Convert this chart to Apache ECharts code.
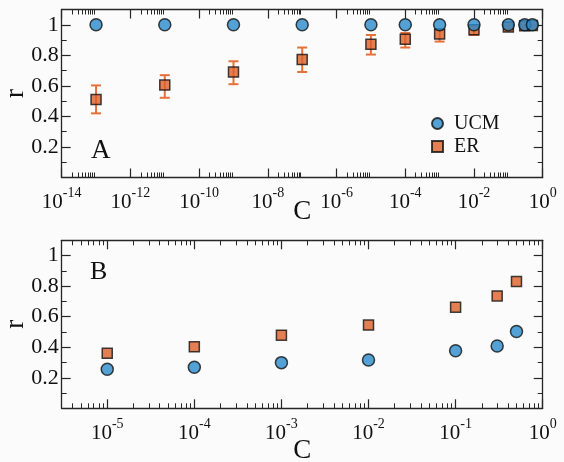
<!DOCTYPE html>
<html>
<head>
<meta charset="utf-8">
<script src="https://cdn.jsdelivr.net/npm/echarts@6/dist/echarts.min.js"></script>
<style>
html,body{margin:0;padding:0;background:#fbfbfc;}
#chart{width:564px;height:462px;}
</style>
</head>
<body>
<div id="chart"></div>
<script>
// ---- Panel A data ----
const topC = [1e-13, 1e-11, 1e-9, 1e-7, 1e-5, 1e-4, 1e-3, 1e-2, 1e-1, 0.3, 0.5];
const topUCM = [1, 1, 1, 1, 1, 1, 1, 1, 1, 1, 1];
const topER = [0.51, 0.605, 0.69, 0.772, 0.872, 0.905, 0.939, 0.968, 0.985, 0.993, 0.996];
const topERHigh = [0.603, 0.67, 0.761, 0.851, 0.933, 0.946, 0.968, 0.99, 0.995, 1.0, 1.0];
const topERLow = [0.42, 0.522, 0.611, 0.691, 0.805, 0.851, 0.89, 0.933, 0.972, 0.985, 0.99];

// ---- Panel B data ----
const bottomC = [1e-5, 1e-4, 1e-3, 1e-2, 1e-1, 0.3, 0.5];
const bottomUCM = [0.256, 0.269, 0.299, 0.316, 0.377, 0.408, 0.503];
const bottomER = [0.36, 0.403, 0.479, 0.545, 0.662, 0.736, 0.83];

// ---- Axis tick labels (decade exponents) ----
const topMajorExp = [-14, -12, -10, -8, -6, -4, -2, 0];
const topMinorDecades = [-14, -12, -10, -8, -6, -4, -2];
const bottomMajorExp = [-5, -4, -3, -2, -1, 0];
const bottomMinorDecades = [-6, -5, -4, -3, -2, -1];
const minorMultipliers = [2, 3, 4, 5, 6, 7, 8, 9];
const yLabels = [0.2, 0.4, 0.6, 0.8, 1];
const yMinor = [0.1, 0.3, 0.5, 0.7, 0.9];
const yMajorTicks = [0.2, 0.4, 0.6, 0.8, 1.0];

const FONT = 'Liberation Serif';
const AXC = '#262626';
const BLUE = '#2b8bcc';
const ORANGE = '#dd6027';
const EBAR = '#e5703a';

const lg = v => Math.log10(v);
function minorList(decades, lo, hi) {
  const out = [];
  decades.forEach(d => minorMultipliers.forEach(m => {
    const v = lg(m) + d;
    if (v > lo && v < hi) out.push(v);
  }));
  return out;
}

const topMin = -14, topMax = 0;
const botMin = lg(3e-6), botMax = 0;

function xAxes(g, min, max, majors, minors, nameGap) {
  const common = {gridIndex: g, type: 'value', min: min, max: max, splitLine: {show: false}};
  return [
    Object.assign({}, common, {
      position: 'bottom',
      axisLine: {show: true, onZero: false, lineStyle: {color: AXC, width: 1.3}},
      axisTick: {show: true, inside: true, length: 9, customValues: majors, lineStyle: {color: AXC, width: 1.2}},
      axisLabel: {
        show: true, customValues: majors, margin: 9,
        fontFamily: FONT, fontSize: 21, color: '#111',
        formatter: v => '10{s|' + Math.round(v) + '}',
        rich: {s: {fontFamily: FONT, fontSize: 14, color: '#111', padding: [0, 0, 18, 0]}}
      },
      name: 'C', nameLocation: 'middle', nameGap: nameGap, nameMoveOverlap: false,
      nameTextStyle: {fontFamily: FONT, fontSize: 27, color: '#111'}
    }),
    Object.assign({}, common, {
      position: 'bottom',
      axisLine: {show: false, onZero: false},
      axisTick: {show: true, inside: true, length: 5, customValues: minors, lineStyle: {color: AXC, width: 1}},
      axisLabel: {show: false}
    }),
    Object.assign({}, common, {
      position: 'top',
      axisLine: {show: true, onZero: false, lineStyle: {color: AXC, width: 1.3}},
      axisTick: {show: true, inside: true, length: 9, customValues: majors, lineStyle: {color: AXC, width: 1.2}},
      axisLabel: {show: false}
    }),
    Object.assign({}, common, {
      position: 'top',
      axisLine: {show: false, onZero: false},
      axisTick: {show: true, inside: true, length: 5, customValues: minors, lineStyle: {color: AXC, width: 1}},
      axisLabel: {show: false}
    })
  ];
}

function yAxes(g) {
  const common = {gridIndex: g, type: 'value', min: 0, max: 1.1, splitLine: {show: false}};
  return [
    Object.assign({}, common, {
      position: 'left',
      axisLine: {show: true, onZero: false, lineStyle: {color: AXC, width: 1.3}},
      axisTick: {show: true, inside: true, length: 9, customValues: yMajorTicks, lineStyle: {color: AXC, width: 1.2}},
      axisLabel: {show: true, customValues: yLabels, margin: 3, fontFamily: FONT, fontSize: 22, color: '#111'},
      name: 'r', nameLocation: 'middle', nameRotate: 90, nameGap: 32, nameMoveOverlap: false,
      nameTextStyle: {fontFamily: FONT, fontSize: 27, color: '#111'}
    }),
    Object.assign({}, common, {
      position: 'left',
      axisLine: {show: false, onZero: false},
      axisTick: {show: true, inside: true, length: 5, customValues: yMinor, lineStyle: {color: AXC, width: 1}},
      axisLabel: {show: false}
    }),
    Object.assign({}, common, {
      position: 'right',
      axisLine: {show: true, onZero: false, lineStyle: {color: AXC, width: 1.3}},
      axisTick: {show: true, inside: true, length: 9, customValues: yMajorTicks, lineStyle: {color: AXC, width: 1.2}},
      axisLabel: {show: false}
    }),
    Object.assign({}, common, {
      position: 'right',
      axisLine: {show: false, onZero: false},
      axisTick: {show: true, inside: true, length: 5, customValues: yMinor, lineStyle: {color: AXC, width: 1}},
      axisLabel: {show: false}
    })
  ];
}

const xs = xAxes(0, topMin, topMax, topMajorExp, minorList(topMinorDecades, topMin, topMax), 21)
  .concat(xAxes(1, botMin, botMax, bottomMajorExp, minorList(bottomMinorDecades, botMin, botMax), 29));
const ys = yAxes(0).concat(yAxes(1));

const circleStyle = {color: BLUE, borderColor: '#111', borderWidth: 1.5};
const squareStyle = {color: ORANGE, borderColor: '#111', borderWidth: 1.5};

const chart = echarts.init(document.getElementById('chart'), null, {renderer: 'canvas'});
chart.setOption({
  backgroundColor: '#fbfbfc',
  animation: false,
  grid: [
    {left: 61.7, top: 9.5, width: 481, height: 168, containLabel: false, outerBoundsMode: 'none'},
    {left: 61.7, top: 240.3, width: 481, height: 168, containLabel: false, outerBoundsMode: 'none'}
  ],
  xAxis: xs,
  yAxis: ys,
  legend: {
    data: [{name: 'UCM', icon: 'circle'}, {name: 'ER', icon: 'rect'}],
    orient: 'vertical', left: 426, top: 108.5,
    itemWidth: 11, itemHeight: 11, itemGap: 3,
    textStyle: {fontFamily: FONT, fontSize: 20, color: '#111', lineHeight: 20, padding: [0, 0, 0, 6]}
  },
  graphic: [
    {type: 'text', left: 91, top: 137, style: {text: 'A', font: '27px "Liberation Serif"', fill: '#111'}},
    {type: 'text', left: 90, top: 259, style: {text: 'B', font: '26px "Liberation Serif"', fill: '#111'}}
  ],
  series: [
    {
      type: 'custom', name: 'ER error', xAxisIndex: 0, yAxisIndex: 0, z: 1,
      data: topC.map((c, i) => [lg(c), topERHigh[i], topERLow[i]]),
      encode: {x: 0, y: [1, 2]},
      renderItem: function (params, api) {
        const x = api.value(0);
        const p1 = api.coord([x, api.value(1)]);
        const p2 = api.coord([x, api.value(2)]);
        const w = 5;
        const st = {stroke: EBAR, lineWidth: 2};
        return {type: 'group', children: [
          {type: 'line', shape: {x1: p1[0], y1: p1[1], x2: p2[0], y2: p2[1]}, style: st},
          {type: 'line', shape: {x1: p1[0] - w, y1: p1[1], x2: p1[0] + w, y2: p1[1]}, style: st},
          {type: 'line', shape: {x1: p2[0] - w, y1: p2[1], x2: p2[0] + w, y2: p2[1]}, style: st}
        ]};
      }
    },
    {
      type: 'scatter', name: 'ER', xAxisIndex: 0, yAxisIndex: 0, z: 2,
      symbol: 'rect', symbolSize: 10, itemStyle: squareStyle,
      data: topC.map((c, i) => [lg(c), topER[i]])
    },
    {
      type: 'scatter', name: 'UCM', xAxisIndex: 0, yAxisIndex: 0, z: 3,
      symbol: 'circle', symbolSize: 12, itemStyle: circleStyle,
      data: topC.map((c, i) => [lg(c), topUCM[i]])
    },
    {
      type: 'scatter', name: 'ER', xAxisIndex: 4, yAxisIndex: 4, z: 2,
      symbol: 'rect', symbolSize: 10, itemStyle: squareStyle,
      data: bottomC.map((c, i) => [lg(c), bottomER[i]])
    },
    {
      type: 'scatter', name: 'UCM', xAxisIndex: 4, yAxisIndex: 4, z: 3,
      symbol: 'circle', symbolSize: 12, itemStyle: circleStyle,
      data: bottomC.map((c, i) => [lg(c), bottomUCM[i]])
    }
  ]
});
</script>
</body>
</html>
